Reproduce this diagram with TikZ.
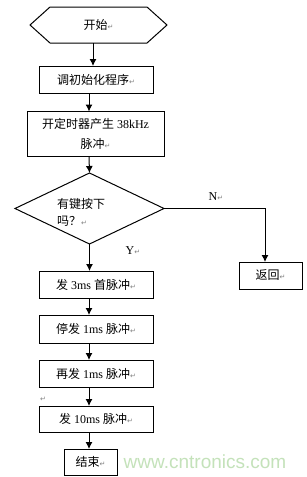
\documentclass[tikz,border=0pt]{standalone}
\usepackage{fontspec}
\setmainfont{Liberation Serif}
\newfontfamily\cjk{Noto Sans CJK SC}
\newfontfamily\dejavu{DejaVu Sans}
\newfontfamily\wmfont{Liberation Sans}
\usetikzlibrary{shapes.geometric,arrows.meta}
\definecolor{wmgreen}{RGB}{196,226,186}
\newcommand\retsym{{\dejavu\color{gray}\fontsize{7}{8}\selectfont ↵}}
\begin{document}
\begin{tikzpicture}[x=1pt,y=-1pt,
  txt/.style={font=\fontsize{12}{20}\selectfont},
  box/.style={txt,draw,line width=1pt,inner sep=0pt,outer sep=0pt},
  arr/.style={-{Latex[length=7pt,width=7pt]},line width=1pt}]
\useasboundingbox (0,0) rectangle (307,477);
\fill[white] (0,0) rectangle (307,477);
% start hexagon
\node[box,draw=none,minimum width=137,minimum height=36] (start) at (98.5,25) {{\cjk 开始}\retsym};
\draw[line width=1pt] (start.west) -- ([xshift=20pt]start.north west) -- ([xshift=-20pt]start.north east) -- (start.east) -- ([xshift=-20pt]start.south east) -- ([xshift=20pt]start.south west) -- cycle;
\node[box,minimum width=114,minimum height=27] (init) at (96,79.5) {{\cjk 调初始化程序}\retsym};
\node[box,minimum width=137,minimum height=45,align=center] (timer) at (95.5,134) {{\cjk 开定时器产生} 38kHz\\{\cjk 脉冲}\retsym};
\node[diamond,draw,line width=1pt,minimum width=149,minimum height=71,inner sep=0pt,outer sep=0pt] (dec) at (89.5,208.5) {};
\node[font=\fontsize{12}{17}\selectfont,align=left,inner sep=0pt] (dtxt) at (81,212) {{\cjk 有键按下}\\{\cjk 吗？}\retsym};
\node[box,minimum width=63,minimum height=27] (ret) at (270.5,275.5) {{\cjk 返回}\retsym};
\node[box,minimum width=114,minimum height=27] (p1) at (96,284.5) {{\cjk 发} 3ms {\cjk 首脉冲}\retsym};
\node[box,minimum width=114,minimum height=28] (p2) at (96,329) {{\cjk 停发} 1ms {\cjk 脉冲}\retsym};
\node[box,minimum width=114,minimum height=27] (p3) at (96,373.5) {{\cjk 再发} 1ms {\cjk 脉冲}\retsym};
\node[box,minimum width=114,minimum height=26] (p4) at (96,419) {{\cjk 发} 10ms {\cjk 脉冲}\retsym};
\node[box,minimum width=53,minimum height=26] (stop) at (90.5,462) {{\cjk 结束}\retsym};
% connectors
\coordinate (ax) at (89,0);
\draw[arr] ([xshift=-5.5pt]start.south) -- ([xshift=-5.5pt]start.south |- init.north);
\draw[arr] (init.south -| ax) -- (timer.north -| ax);
\draw[arr] (timer.south -| ax) -- (dec.north);
\draw[arr] (dec.south) -- (dec.south |- p1.north);
\draw[arr] (dec.east) -| ([xshift=-5.5pt]ret.north);
\draw[arr] (p1.south -| ax) -- (p2.north -| ax);
\draw[arr] (p2.south -| ax) -- (p3.north -| ax);
\draw[arr] (p3.south -| ax) -- (p4.north -| ax);
\draw[arr] (p4.south -| ax) -- (stop.north -| ax);
% labels
\node[txt,inner sep=0pt] (nlab) at (216,197) {N\retsym};
\node[txt,inner sep=0pt] (ylab) at (133,251) {Y\retsym};
\node[inner sep=0pt] (mark) at (43,399) {\retsym};
\node[text=wmgreen,font=\wmfont\fontsize{19}{20}\selectfont,inner sep=0pt] (wm) at (205,462) {www.cntronics.com};
\end{tikzpicture}
\end{document}
